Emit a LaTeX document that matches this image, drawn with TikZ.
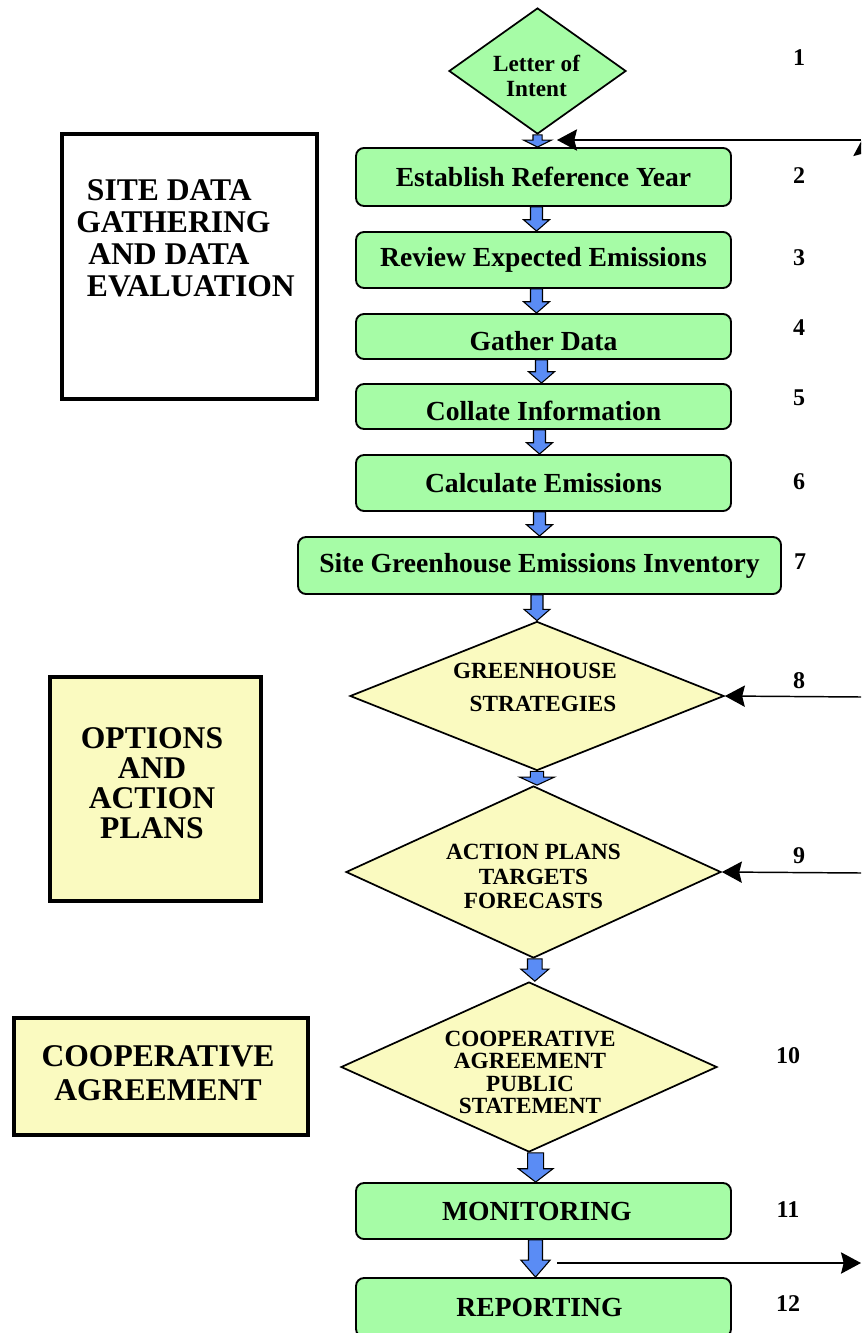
\documentclass[tikz,border=0pt]{standalone}
\usepackage{fontspec}
\setmainfont{Liberation Serif}
\usetikzlibrary{shapes.geometric,arrows.meta,calc}
\definecolor{gfill}{RGB}{166,252,166}
\definecolor{yfill}{RGB}{250,250,192}
\definecolor{bfill}{RGB}{90,140,245}
% block arrow: #1 from node, #2 to node, #3 x offset, #4 half shaft, #5 half head, #6 head length
\newcommand\blk[6]{%
  \path[blkarrow] let \p1=([xshift=#3]#1.south), \p2=(#2.north) in
    (\x1-#4,\y1) -- (\x1+#4,\y1) -- (\x1+#4,\y2+#6) -- (\x1+#5,\y2+#6) -- (\x1,\y2)
    -- (\x1-#5,\y2+#6) -- (\x1-#4,\y2+#6) -- cycle;}
\begin{document}
\begin{tikzpicture}[x=0.75pt,y=-0.75pt,
  gbox/.style 2 args={draw, line width=1.4pt, rounded corners=6pt, fill=gfill,
    minimum width=#1*0.75pt, minimum height=#2*0.75pt, inner sep=0pt,
    font=\bfseries\fontsize{20.7}{24}\selectfont},
  ydiam/.style 2 args={diamond, draw, line width=1.3pt, fill=yfill,
    minimum width=#1*0.75pt, minimum height=#2*0.75pt, inner sep=0pt},
  gdiam/.style 2 args={diamond, draw, line width=1.3pt, fill=gfill,
    minimum width=#1*0.75pt, minimum height=#2*0.75pt, inner sep=0pt},
  dtext/.style={align=center, inner sep=0pt, font=\bfseries\fontsize{17.4}{#1}\selectfont},
  lbox/.style 2 args={draw, line width=3pt, minimum width=#1*0.75pt,
    minimum height=#2*0.75pt, inner sep=0pt},
  ltext/.style={inner sep=0pt, font=\bfseries\fontsize{23.7}{#1}\selectfont},
  num/.style={inner sep=0pt, font=\bfseries\fontsize{18}{20}\selectfont},
  fb/.style={line width=1.1pt, -{Stealth[length=15pt,width=16pt,inset=2pt]}},
  blkarrow/.style={draw, fill=bfill, line width=0.8pt, line join=miter}]

\useasboundingbox (0,0) rectangle (861,1333);
\clip (0,0) rectangle (861,1333);
\fill[white] (0,0) rectangle (861,1333);

% left boxes
\node[lbox={255}{265}, fill=white] (L1) at (189.5,266.5) {};
\node[ltext=24pt, align=left, anchor=north west] (L1t) at (76,179)
  {\hspace*{8pt}SITE DATA\\GATHERING\\\hspace*{9pt}AND DATA\\\hspace*{8pt}EVALUATION};
\node[lbox={211}{224}, fill=yfill] (L2) at (155.5,789) {};
\node[ltext=22.5pt, align=center, anchor=north] (L2t) at (152,727)
  {OPTIONS\\AND\\ACTION\\PLANS};
\node[lbox={294}{117}, fill=yfill] (L3) at (161,1076.5) {};
\node[ltext=26pt, align=center, anchor=north] (L3t) at (158,1045)
  {COOPERATIVE\\AGREEMENT};

% main flow
\node[gdiam={177}{126}] (d1) at (537.5,71) {};
\node[dtext=18.75pt] (d1t) at (536.5,75.5) {Letter of\\Intent};
\node[gbox={375}{58}] (b2) at (543.5,177) {Establish Reference Year};
\node[gbox={375}{56}] (b3) at (543.5,260) {Review Expected Emissions};
\node[gbox={375}{45}] (b4) at (543.5,336.5) {\raisebox{-3.5pt}[\height][\depth]{Gather Data}};
\node[gbox={375}{45}] (b5) at (543.5,406.5) {\raisebox{-3pt}[\height][\depth]{Collate Information}};
\node[gbox={375}{56}] (b6) at (543.5,483) {Calculate Emissions};
\node[gbox={483}{57}] (b7) at (539.5,565.5) {Site Greenhouse Emissions Inventory};
\node[ydiam={374}{149}] (d8) at (537,696) {};
\node[dtext=24.75pt] (d8t) at (539,687.5) {GREENHOUSE\hspace*{6pt}\\\hspace*{6pt}STRATEGIES};
\node[ydiam={375}{172}] (d9) at (533.5,872) {};
\node[dtext=18.4pt] (d9t) at (533.5,876.5) {ACTION PLANS\\TARGETS\\FORECASTS};
\node[ydiam={376}{170}] (d10) at (529,1067) {};
\node[dtext=16.8pt] (d10t) at (530,1072.5) {COOPERATIVE\\AGREEMENT\\PUBLIC\hspace*{9pt}\\STATEMENT};
\node[gbox={375}{56}] (b11) at (543.5,1211) {MONITORING\hspace*{10pt}};
\node[gbox={375}{59}] (b12) at (543.5,1307.5) {REPORTING\hspace*{6pt}};

% block arrows
\blk{d1}{b2}{0pt}{3.4pt}{10.5pt}{5.25pt}
\blk{b2}{b3}{-5.25pt}{4.5pt}{9.75pt}{8.5pt}
\blk{b3}{b4}{-5.25pt}{4.5pt}{9.75pt}{8.5pt}
\blk{b4}{b5}{-1.5pt}{4.5pt}{9.75pt}{8.5pt}
\blk{b5}{b6}{-3pt}{4.5pt}{9.75pt}{8.5pt}
\blk{b6}{b7}{-3pt}{4.5pt}{9.75pt}{8.5pt}
\blk{b7}{d8}{-1.9pt}{4.5pt}{9.75pt}{8.5pt}
\blk{d8}{d9}{0pt}{5pt}{13pt}{6pt}
\blk{d9}{d10}{1pt}{5.5pt}{10.5pt}{9pt}
\blk{d10}{b11}{5pt}{6pt}{13pt}{10pt}
\blk{b11}{b12}{-6pt}{5.25pt}{11pt}{12.75pt}

% numbers
\node[num] (n1) at (799,58) {1};
\node[num] (n2) at (799,176) {2};
\node[num] (n3) at (799,258) {3};
\node[num] (n4) at (799,328) {4};
\node[num] (n5) at (799,398) {5};
\node[num] (n6) at (799,482) {6};
\node[num] (n7) at (800,562) {7};
\node[num] (n8) at (799,681) {8};
\node[num] (n9) at (799,856) {9};
\node[num] (n10) at (788,1056) {10};
\node[num] (n11) at (788,1210) {11};
\node[num] (n12) at (788,1304) {12};

% feedback connectors
\coordinate (fbr) at (861,140);
\coordinate (fbin) at (557,140);
\draw[fb] (fbr) -- (fbin);
\coordinate (upb) at (864,220);
\coordinate (upt) at (864,136);
\draw[fb] (upb) -- (upt);
\coordinate (r8) at (861,697);
\draw[fb] (r8) -- (d8.east);
\coordinate (r9) at (861,873);
\draw[fb] (r9) -- (d9.east);
\coordinate (o11) at (557,1263);
\coordinate (r11) at (861,1263);
\draw[fb] (o11) -- (r11);
\end{tikzpicture}
\end{document}
